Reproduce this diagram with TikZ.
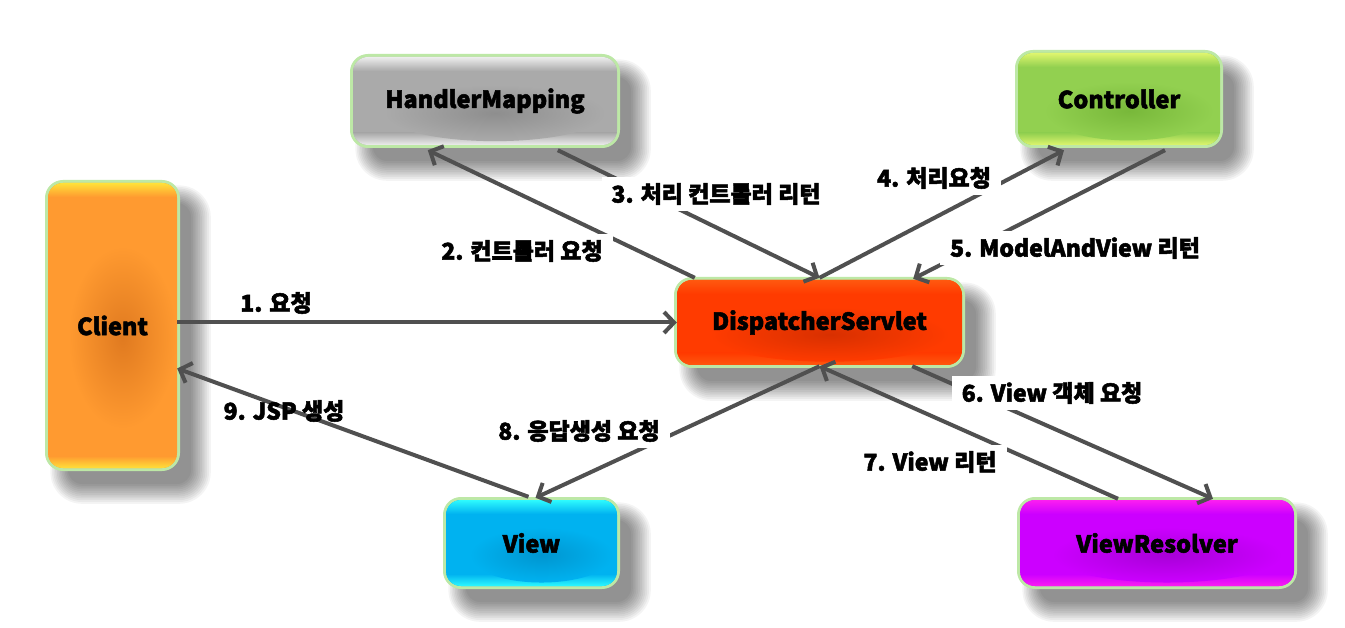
\documentclass[tikz,border=0pt]{standalone}
\usepackage{fontspec}
\setmainfont{Noto Sans CJK KR}[BoldFeatures={FakeBold=2.2}]
\usetikzlibrary{arrows.meta,calc,fit}
\definecolor{arrc}{HTML}{505050}
\definecolor{glowc}{HTML}{BDE8A6}
\definecolor{cliB}{HTML}{FF9A30}\definecolor{cliL}{HTML}{FFE63A}\definecolor{cliD}{HTML}{E07A20}
\definecolor{hmB}{HTML}{AAAAAA}\definecolor{hmL}{HTML}{F2F2F2}\definecolor{hmD}{HTML}{8E8E8E}
\definecolor{ctB}{HTML}{92D050}\definecolor{ctL}{HTML}{E4F870}\definecolor{ctD}{HTML}{78B83A}
\definecolor{dsB}{HTML}{FF3B00}\definecolor{dsL}{HTML}{FF5A10}\definecolor{dsD}{HTML}{D83000}
\definecolor{vwB}{HTML}{00B2F0}\definecolor{vwL}{HTML}{30FFFF}\definecolor{vwD}{HTML}{0096D0}
\definecolor{vrB}{HTML}{CC00FF}\definecolor{vrL}{HTML}{FF20F0}\definecolor{vrD}{HTML}{A800D8}
\tikzset{
  boxtext/.style={font=\fontsize{23.5}{26}\selectfont\bfseries, text=black, inner sep=0pt},
  flow/.style={draw=arrc, line width=4pt, -{Straight Barb[length=10pt,width=21pt]}},
  lbl/.style={font=\fontsize{23}{26}\selectfont\bfseries, fill=white, inner xsep=10pt, inner ysep=6pt},
  lblbare/.style={font=\fontsize{23}{26}\selectfont\bfseries, inner sep=2pt},
}
\newcommand\glossbox[9]{%
  \foreach \i [evaluate=\i as \r using 14+\i*1.6] in {0,...,11}{%
    \fill[black,opacity=0.045,rounded corners=\r pt] ({#2+20-\i*1.6},{#3+20-\i*1.6}) rectangle ({#4+14+\i*1.8},{#5+16+\i*1.8});
  }
  \draw[glowc,line width=6pt,rounded corners=15pt] (#2,#3) rectangle (#4,#5);
  \fill[#6,rounded corners=15pt] (#2,#3) rectangle (#4,#5);
  \begin{scope}
    \clip[rounded corners=15pt] (#2,#3) rectangle (#4,#5);
    \shade[top color=#7, bottom color=#6] (#2,{#3-1}) rectangle (#4,{#3+14});
    \shade[top color=#6, bottom color=#7] (#2,{#5-12}) rectangle (#4,{#5+1});
    \shade[inner color=#8, outer color=#6] ({(#2+#4)/2+10},{(#3+#5)/2+12}) ellipse ({(#4-#2)*0.42} and {(#5-#3)*0.32});
  \end{scope}
  \node[fit={(#2,#3) (#4,#5)}, inner sep=0pt] (#1) {};
  \node[boxtext] at (#1.center) {#9};
}
\begin{document}
\begin{tikzpicture}[x=1pt,y=-1pt]
\useasboundingbox (0,0) rectangle (1345,628);
\fill[white] (0,0) rectangle (1345,628);

\glossbox{client}{48}{183}{177}{468}{cliB}{cliL}{cliD}{Client}
\glossbox{hm}{353}{57}{617}{145}{hmB}{hmL}{hmD}{HandlerMapping}
\glossbox{ctrl}{1018}{53}{1220}{145}{ctB}{ctL}{ctD}{Controller}
\glossbox{ds}{677}{280}{962}{365}{dsB}{dsL}{dsD}{DispatcherServlet}
\glossbox{view}{446}{500}{617}{586}{vwB}{vwL}{vwD}{View}
\glossbox{vr}{1020}{500}{1294}{586}{vrB}{vrL}{vrD}{ViewResolver}

% connectors
\draw[flow] (client.east |- ds.west) -- (ds.west);
\draw[flow] ([xshift=18pt,yshift=2pt]ds.north west) -- ([xshift=75pt,yshift=-5pt]hm.south west);
\draw[flow] ([xshift=205pt,yshift=-5pt]hm.south west) -- ([yshift=2pt]ds.north);
\draw[flow] ([yshift=2pt]ds.north) -- ([xshift=-55pt,yshift=-5pt]ctrl.south);
\draw[flow] ([xshift=46pt,yshift=-5pt]ctrl.south) -- ([xshift=-49pt,yshift=1pt]ds.north east);
\draw[flow] ([xshift=-50pt,yshift=-1pt]ds.south east) -- ([xshift=56pt,yshift=1pt]vr.north);
\draw[flow] ([xshift=-39pt,yshift=1pt]vr.north) -- ([yshift=-1pt]ds.south);
\draw[flow] ([yshift=-1pt]ds.south) -- ([xshift=4pt,yshift=2pt]view.north);
\draw[flow] ([xshift=-3pt,yshift=3pt]view.north) -- ([yshift=-43pt]client.east);

% labels
\node[lbl] (l1) at (276,303) {1. 요청};
\node[lbl] (l2) at (522,251) {2. 컨트롤러 요청};
\node[lbl] (l3) at (716,194) {3. 처리 컨트롤러 리턴};
\node[lbl] (l4) at (934,178) {4. 처리요청};
\node[lbl] (l5) at (1075,248) {5. ModelAndView 리턴};
\node[lbl] (l6) at (1052,393) {6. View 객체 요청};
\node[lbl] (l7) at (930,462) {7. View 리턴};
\node[lbl] (l8) at (579,431) {8. 응답생성 요청};
\node[lblbare] (l9) at (284,411) {9. JSP 생성};
\end{tikzpicture}
\end{document}
